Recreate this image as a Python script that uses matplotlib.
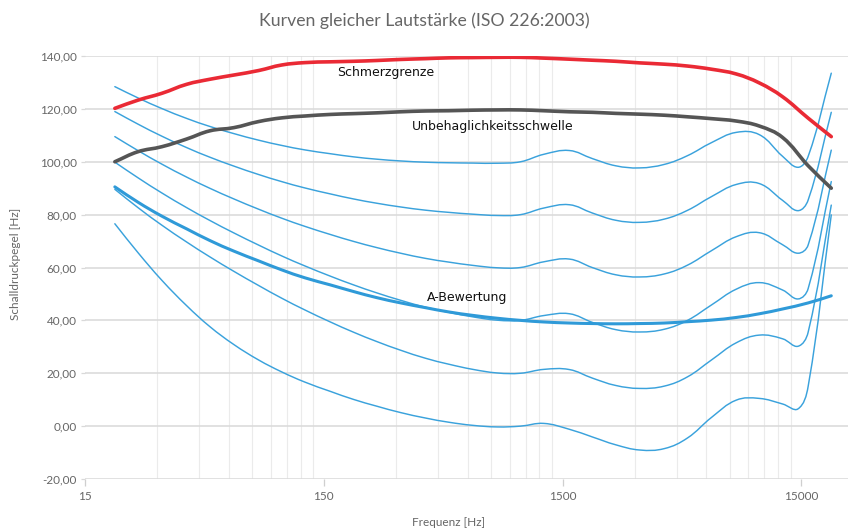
import numpy as np
import matplotlib
matplotlib.use("Agg")
import matplotlib.pyplot as plt
from matplotlib.path import Path
from matplotlib.patches import PathPatch
from matplotlib.ticker import FixedLocator, FixedFormatter, NullFormatter, FuncFormatter

# ---------------- data ----------------
# frequency grid of the loudness contours (ISO 226 third octaves + read-off points above 12.5 kHz)
freqs_phon = [20, 25, 31.5, 40, 50, 63, 80, 100, 125, 160, 200, 250, 315, 400, 500, 630,
              800, 1000, 1250, 1600, 2000, 2500, 3150, 4000, 5000, 6300, 8000, 10000,
              12500, 14500, 16000, 20000]

phon_0 = [76.55, 65.62, 55.12, 45.53, 37.63, 30.86, 25.02, 20.50, 16.65, 13.12, 10.09,
          7.54, 5.11, 3.06, 1.48, 0.30, -0.31, 0.0, 1.03, -1.19, -4.11, -7.05, -9.03,
          -8.50, -4.48, 3.28, 9.83, 10.48, 8.38, 6.5, 15.0, 79.9]
phon_20 = [89.58, 82.65, 75.98, 69.62, 64.02, 58.55, 53.19, 48.38, 43.94, 39.37, 35.51,
           31.99, 28.69, 25.67, 23.43, 21.48, 20.10, 20.0, 21.46, 21.40, 18.15, 15.39,
           14.26, 15.14, 18.64, 25.02, 31.52, 34.43, 33.04, 30.2, 35.5, 83.6]
phon_40 = [99.85, 93.94, 88.17, 82.63, 77.79, 73.08, 68.48, 64.37, 60.59, 56.70, 53.41,
           50.40, 47.58, 44.98, 43.05, 41.34, 40.06, 40.0, 41.82, 42.51, 39.23, 36.51,
           35.61, 36.65, 40.01, 45.83, 51.80, 54.28, 51.49, 48.1, 52.0, 92.5]
phon_60 = [109.51, 104.23, 99.08, 94.18, 89.96, 85.94, 82.05, 78.65, 75.56, 72.47, 69.86,
           67.53, 65.39, 63.45, 62.05, 60.81, 59.89, 60.0, 62.15, 63.19, 59.96, 57.26,
           56.42, 57.57, 60.89, 66.36, 71.66, 73.16, 68.63, 65.4, 68.5, 104.4]
phon_80 = [118.99, 114.23, 109.65, 105.34, 101.72, 98.36, 95.17, 92.48, 90.09, 87.82,
           85.92, 84.31, 82.89, 81.68, 80.86, 80.17, 79.67, 80.0, 82.48, 83.74, 80.59,
           77.88, 77.07, 78.31, 81.62, 86.81, 91.41, 91.74, 85.41, 81.5, 85.5, 118.7]
phon_100 = [128.41, 124.15, 120.11, 116.38, 113.35, 110.65, 108.16, 106.17, 104.48,
            103.03, 101.85, 100.97, 100.30, 99.83, 99.62, 99.50, 99.44, 100.0, 102.81,
            104.25, 101.18, 98.48, 97.67, 99.00, 102.30, 107.23, 111.11, 110.23, 102.07,
            97.9, 102.0, 133.5]

# frequency grid of the other three curves
freqs = [20, 25, 31.5, 40, 50, 63, 80, 100, 125, 160, 200, 250, 315, 400, 500, 630,
         800, 1000, 1250, 1600, 2000, 2500, 3150, 4000, 5000, 6300, 8000, 10000,
         12500, 16000, 20000]

a_bewertung = [90.5, 84.7, 79.4, 74.6, 70.2, 66.2, 62.5, 59.1, 56.1, 53.4, 50.9, 48.6,
               46.6, 44.8, 43.2, 41.9, 40.8, 40.0, 39.4, 39.0, 38.8, 38.7, 38.8, 39.0,
               39.5, 40.1, 41.1, 42.5, 44.3, 46.6, 49.3]

schmerzgrenze = [120.2, 123.3, 125.9, 129.3, 131.2, 132.8, 134.5, 136.6, 137.5, 137.8,
                 138.0, 138.3, 138.7, 139.0, 139.3, 139.4, 139.5, 139.5, 139.2, 138.8,
                 138.4, 138.0, 137.4, 136.9, 136.2, 135.0, 133.2, 129.8, 124.6, 116.5,
                 109.5]

unbehaglichkeit = [100.0, 103.8, 105.7, 108.6, 111.7, 112.9, 115.2, 116.6, 117.3, 117.9,
                   118.2, 118.5, 118.9, 119.2, 119.3, 119.5, 119.6, 119.6, 119.3, 118.9,
                   118.7, 118.3, 118.0, 117.6, 117.0, 116.3, 115.4, 113.5, 109.2, 98.5,
                   90.0]

x_major = [15, 150, 1500, 15000]
x_major_labels = ["15", "150", "1500", "15000"]
y_ticks = [-20, 0, 20, 40, 60, 80, 100, 120, 140]

title = "Kurven gleicher Lautstärke (ISO 226:2003)"
x_label = "Frequenz [Hz]"
y_label = "Schalldruckpegel [Hz]"

# ---------------- helpers ----------------
SX, SY = 238.8, 2.644   # approx. pixels per decade / per dB, used for the spline shape


def smooth_path(xs, ys, tension=0.4):
    """Bezier path through the data points (Chart.js-like spline rendering)."""
    X = np.log10(np.asarray(xs, float)) * SX
    Y = np.asarray(ys, float) * SY
    pts = np.column_stack([X, Y])
    n = len(pts)
    prev_cp = np.zeros_like(pts)
    next_cp = np.zeros_like(pts)
    for i in range(n):
        p0 = pts[max(i - 1, 0)]
        p1 = pts[i]
        p2 = pts[min(i + 1, n - 1)]
        d01 = np.hypot(*(p1 - p0))
        d12 = np.hypot(*(p2 - p1))
        tot = d01 + d12
        s01 = d01 / tot if tot else 0.0
        s12 = d12 / tot if tot else 0.0
        prev_cp[i] = p1 - tension * s01 * (p2 - p0)
        next_cp[i] = p1 + tension * s12 * (p2 - p0)
    verts = [pts[0]]
    codes = [Path.MOVETO]
    for i in range(n - 1):
        verts += [next_cp[i], prev_cp[i + 1], pts[i + 1]]
        codes += [Path.CURVE4] * 3
    verts = np.array(verts)
    verts[:, 0] = 10 ** (verts[:, 0] / SX)
    verts[:, 1] = verts[:, 1] / SY
    return Path(verts, codes)


def draw(ax, xs, ys, color, lw, z):
    patch = PathPatch(smooth_path(xs, ys), facecolor="none", edgecolor=color, lw=lw,
                      capstyle="round", joinstyle="round", zorder=z)
    ax.add_patch(patch)

# ---------------- figure ----------------
W, H = 848, 531
fig = plt.figure(figsize=(W / 100, H / 100), dpi=100)
ax = fig.add_axes([85 / W, 1 - 479 / H, (848 - 85) / W, (479 - 56) / H])
ax.set_xscale("log")
ax.set_xlim(15, 23500)
ax.set_ylim(-20, 140)

blue = "#3aa2dc"
for series in [phon_0, phon_20, phon_40, phon_60, phon_80, phon_100]:
    draw(ax, freqs_phon, series, blue, 1.05, 3)
draw(ax, freqs, a_bewertung, "#2f9ad8", 2.2, 4)
draw(ax, freqs, unbehaglichkeit, "#555555", 2.6, 5)
draw(ax, freqs, schmerzgrenze, "#ea2a35", 2.6, 5)

# grid / ticks
ax.xaxis.set_major_locator(FixedLocator(x_major))
ax.xaxis.set_major_formatter(FixedFormatter(x_major_labels))
minor = [15 * k * 10 ** n for n in range(0, 4) for k in range(2, 10)]
ax.xaxis.set_minor_locator(FixedLocator(minor))
ax.xaxis.set_minor_formatter(NullFormatter())
ax.yaxis.set_major_locator(FixedLocator(y_ticks))
ax.yaxis.set_major_formatter(FuncFormatter(lambda v, p: f"{v:.2f}".replace(".", ",")))

ax.grid(False)
ax.grid(True, which="minor", axis="x", color="#ebebeb", lw=0.8, zorder=0)
ax.grid(True, which="major", axis="y", color="#d9d9d9", lw=1.1, zorder=0)
ax.set_axisbelow(True)
for s in ax.spines.values():
    s.set_visible(False)

ax.tick_params(axis="x", which="major", length=5, width=0.9, color="#cfcfcf",
               labelcolor="#666666", pad=4, labelsize=8.5)
ax.tick_params(axis="x", which="minor", length=0)
ax.tick_params(axis="y", which="major", length=3, width=0.9, color="#d9d9d9",
               labelcolor="#666666", pad=3, labelsize=8.5)
for lab in ax.get_xticklabels() + ax.get_yticklabels():
    lab.set_fontfamily("Lato")

# annotations
ann = dict(family="DejaVu Sans", size=9, color="#111111", va="center", ha="left", zorder=6)
ax.text(170, 133.8, "Schmerzgrenze", **ann)
ax.text(349, 113.5, "Unbehaglichkeitsschwelle", **ann)
ax.text(407, 48.6, "A-Bewertung", **ann)

fig.text(0.5, 1 - 21 / H, title, ha="center", va="center", family="Lato", size=12.7,
         color="#666666")
fig.text(449 / W, 1 - 522 / H, x_label, ha="center", va="center", family="Lato",
         size=8.5, color="#666666")
fig.text(16 / W, 1 - 264 / H, y_label, ha="center", va="center", rotation=90,
         family="Lato", size=8.5, color="#666666")

fig.savefig("out.png", dpi=100)
